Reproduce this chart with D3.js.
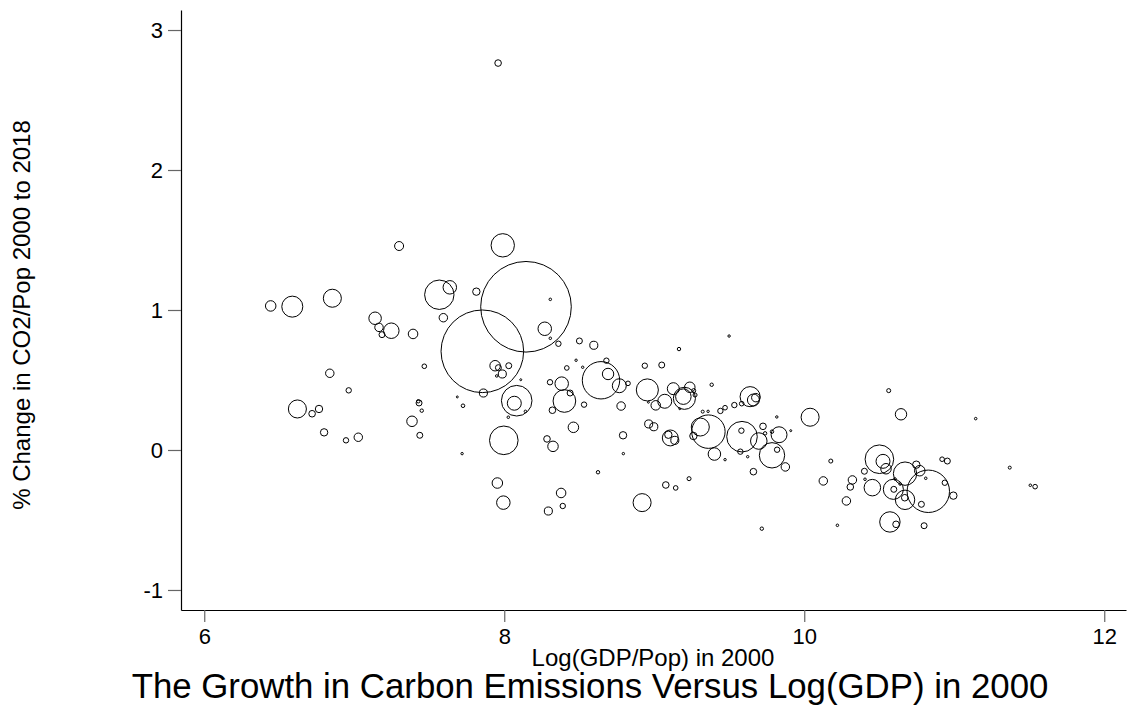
<!DOCTYPE html>
<html>
<head>
<meta charset="utf-8">
<script src="https://cdn.jsdelivr.net/npm/d3@7"></script>
<style>
  body { margin: 0; background: #fff; }
  text { font-family: "Liberation Sans", Arial, sans-serif; }
</style>
</head>
<body>
<div id="viz"></div>
<script>
const w = 1128;
const h = 713;

// log GDP per capita in 2000
const gdp = [6.443,6.587,6.854,7.139,7.165,7.185,7.247,6.837,6.963,6.621,6.719,6.765,6.799,6.945,7.027,7.299,7.392,7.990,7.567,7.637,7.814,7.594,8.145,7.854,8.307,8.270,8.307,8.361,8.501,8.597,7.467,7.939,7.961,7.987,8.030,7.950,8.110,7.861,7.687,7.725,8.083,8.067,8.141,8.027,7.432,7.427,7.450,7.385,7.437,7.997,7.719,8.383,8.305,8.439,8.401,8.321,8.532,8.417,8.479,8.523,8.461,8.285,8.325,8.625,7.954,7.994,8.379,8.390,8.294,7.959,
  9.165,9.499,8.681,8.645,8.692,8.767,8.825,8.937,9.050,8.954,9.010,9.070,9.127,9.201,9.237,9.194,9.272,9.263,9.170,8.961,8.779,9.383,8.963,8.997,8.792,9.094,9.107,9.137,8.794,8.919,9.077,9.143,9.232,9.361,9.307,9.261,9.401,9.323,9.359,9.441,9.472,9.534,9.583,9.639,9.661,9.677,9.472,9.585,9.581,9.574,9.697,9.725,9.739,9.623,9.785,9.819,9.832,9.785,9.874,9.661,9.817,9.910,10.039,10.177,10.127,10.321,10.307,10.281,10.221,9.717,
  10.563,10.645,11.143,10.501,10.525,10.545,10.401,10.405,10.454,10.672,10.747,10.770,10.594,10.597,10.605,10.639,10.672,10.670,10.827,10.937,10.810,10.781,10.994,10.919,10.954,10.571,10.612,10.799,11.370,11.507,11.539];

// change in CO2 per person, 2000 to 2018
const co2 = [1.029,1.024,1.084,0.941,0.876,0.824,0.852,0.548,0.426,0.293,0.259,0.293,0.126,0.069,0.091,1.457,0.829,1.462,1.109,1.162,1.131,0.945,1.023,0.705,1.076,0.866,0.798,0.759,0.779,0.748,0.598,0.602,0.588,0.543,0.602,0.529,0.502,0.407,0.379,0.316,0.352,0.334,0.276,0.234,0.336,0.348,0.281,0.205,0.105,0.069,-0.026,0.474,0.484,0.407,0.350,0.284,0.324,0.586,0.641,0.591,0.162,0.079,0.026,-0.159,-0.236,-0.376,-0.307,-0.400,-0.436,2.764,
  0.721,0.814,0.638,0.498,0.543,0.459,0.476,0.602,0.607,0.429,0.319,0.348,0.438,0.369,0.448,0.381,0.393,0.424,0.295,0.341,0.314,0.466,0.186,0.166,0.105,0.109,0.086,0.069,-0.026,-0.376,-0.250,-0.271,-0.205,0.131,0.164,0.100,-0.029,0.274,0.276,0.279,0.302,0.321,0.331,0.381,0.357,0.374,-0.069,0.095,0.138,-0.012,0.064,0.169,0.119,-0.048,-0.038,0.002,0.109,0.131,-0.121,-0.155,0.236,0.138,0.234,-0.079,-0.221,-0.214,-0.264,-0.364,-0.538,-0.562,
  0.424,0.255,0.224,-0.066,-0.081,-0.134,-0.152,-0.209,-0.269,-0.169,-0.105,-0.148,-0.281,-0.281,-0.207,-0.243,-0.356,-0.341,-0.295,-0.234,-0.202,-0.388,-0.326,-0.066,-0.079,-0.514,-0.531,-0.541,-0.126,-0.252,-0.262];

// population weight (millions) -> bubble size
const pop = [17,68,50,24,11,5.5,37,11,4.5,50,6.7,8.4,8.4,4.5,11,12.5,14,84,133,28,8.4,11,1263,1050,1,28,1,4.5,5.5,10,3.3,17,5.5,10,5.5,1,0.6,10,0.6,2,144,30,1,1,5.5,1.8,1.8,17,5.5,126,0.9,28,4.5,5.5,79,6.7,4.5,3.3,0.9,0.9,17,6.7,17,1.8,17,28,14,4.5,10,6.7,
  1.8,0.9,4.5,215,20,30,3.3,4.5,5.5,75,14,30,22,75,17,37,2.5,2.5,0.6,0.6,11,1.8,10,10,8.4,8.4,39,10,0.9,50,6.7,3.3,2.5,172,50,8.4,24,1.4,0.9,4.5,3.3,4.5,3.3,62,22,11,0.9,144,4.5,4.5,42,6.7,1.8,0.9,99,4.5,39,1.8,11,6.7,0.9,0.6,50,2.5,11,11,6.7,11,1,1.8,
  2.5,20,1,126,30,17,5.5,1,42,84,8.4,17,62,5.5,1,1,58,6.7,277,4.5,1,5.5,8.4,3.3,5.5,64,6.7,5.5,1.4,1,3.3];

const xTicks = [6, 8, 10, 12];
const yTicks = [-1, 0, 1, 2, 3];

const svg = d3.select('#viz').append('svg')
    .attr('width', w)
    .attr('height', h)

let x = d3.scaleLinear()
    .domain([5.845, 12.145])
    .range([181, 1126])

let y = d3.scaleLinear()
    .domain([-1.143, 3.143])
    .range([610, 10])

let r = d3.scaleSqrt()
    .domain([0, 1263])
    .range([0, 45.3])

let points = gdp.map((g, i) => ({ g: g, c: co2[i], p: pop[i] }))

// bubbles
svg.append('g')
    .selectAll('circle')
    .data(points)
    .join('circle')
    .attr('cx', d => x(d.g))
    .attr('cy', d => y(d.c))
    .attr('r', d => Math.max(r(d.p), 0.8))
    .attr('fill', 'none')
    .attr('stroke', '#000')
    .attr('stroke-width', 1)

// axes
let xAxis = svg.append('g')
    .attr('transform', `translate(0,610)`)
    .call(d3.axisBottom(x).tickValues(xTicks).tickFormat(d => String(d))
        .tickSize(12).tickPadding(6).tickSizeOuter(0))

let yAxis = svg.append('g')
    .attr('transform', `translate(181,0)`)
    .call(d3.axisLeft(y).tickValues(yTicks).tickFormat(d => String(d))
        .tickSize(13).tickPadding(5).tickSizeOuter(0))

svg.selectAll('.domain').attr('stroke', '#000').attr('stroke-width', 1.2)
svg.selectAll('.tick line').attr('stroke', '#666').attr('stroke-width', 1.2)
svg.selectAll('.tick text')
    .attr('fill', '#000')
    .style('font-size', '22px')
    .style('font-family', '"Liberation Sans", Arial, sans-serif')

// labels
svg.append('text')
    .attr('x', 653)
    .attr('y', 666)
    .attr('text-anchor', 'middle')
    .style('font-size', '24px')
    .text('Log(GDP/Pop) in 2000')

svg.append('text')
    .attr('transform', `translate(30,315) rotate(-90)`)
    .attr('text-anchor', 'middle')
    .style('font-size', '24px')
    .text('% Change in CO2/Pop 2000 to 2018')

svg.append('text')
    .attr('x', 590)
    .attr('y', 698)
    .attr('text-anchor', 'middle')
    .style('font-size', '34.8px')
    .text('The Growth in Carbon Emissions Versus Log(GDP) in 2000')
</script>
</body>
</html>
